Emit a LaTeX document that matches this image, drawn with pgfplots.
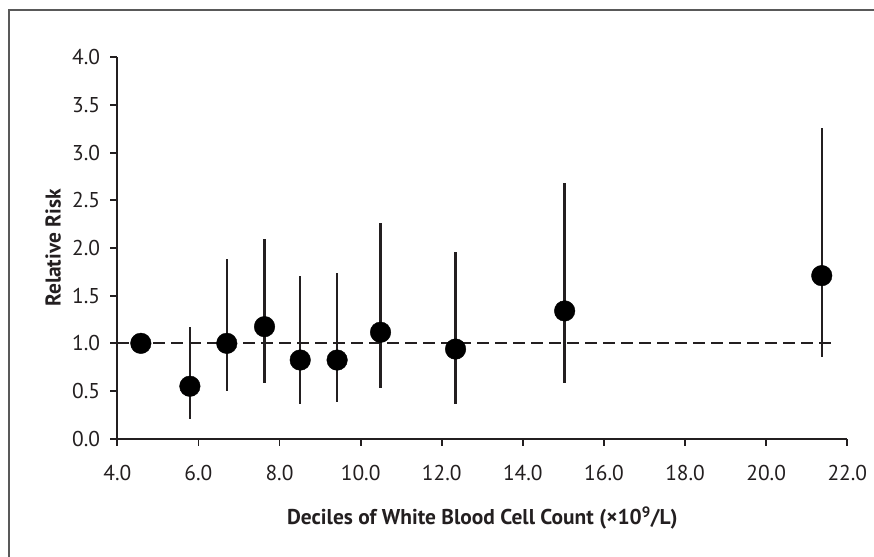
\documentclass[border=0pt]{standalone}
\usepackage{pgfplots}
\pgfplotsset{compat=1.18}
\usepackage{fontspec}
\setmainfont{PT Sans}
\definecolor{ink}{HTML}{231F20}
\pgfplotstableread{
x      y      ep     em
4.58   1.00   0      0
5.79   0.55   0.62   0.34
6.70   1.00   0.88   0.50
7.63   1.175  0.915  0.59
8.51   0.825  0.885  0.458
9.42   0.825  0.915  0.437
10.49  1.116  1.144  0.581
12.34  0.94   1.015  0.576
15.03  1.34   1.34   0.756
21.37  1.71   1.55   0.85
}\rrdata
\begin{document}
\begin{tikzpicture}[x=1bp,y=1bp]
\useasboundingbox (0,0) rectangle (874,557);
\begin{scope}
\clip (0,0) rectangle (874,557);
\draw[line width=1.5bp, color=black!65] (9,-10) -- (9,547) -- (890,547);
\end{scope}
\begin{axis}[
  at={(117.3bp,118.3bp)}, anchor=south west,
  scale only axis, width=730bp, height=381.4bp,
  xmin=4, xmax=22, ymin=0, ymax=4,
  axis lines=left,
  axis line style={-, line width=1.8bp, ink},
  xtick={4,6,...,22}, ytick={0,0.5,...,4},
  tick align=outside, major tick length=7bp,
  tick style={line width=1.8bp, ink},
  /pgf/number format/.cd, fixed, fixed zerofill, precision=1, assume math mode=true,
  /pgfplots/.cd,
  tick label style={font=\fontsize{21.5}{25}\selectfont, text=ink},
  xticklabel style={inner sep=0pt, yshift=-19bp},
  yticklabel style={inner sep=0pt, xshift=-10bp},
  xlabel={\textbf{Deciles of White Blood Cell Count (\texttimes10\textsuperscript{9}/L)}},
  ylabel={\textbf{Relative Risk}},
  every axis x label/.style={at={(axis description cs:0.5,-0.208)}, anchor=center, font=\fontsize{21.5}{25}\selectfont, text=ink},
  every axis y label/.style={at={(axis description cs:-0.088,0.5)}, anchor=center, rotate=90, font=\fontsize{21.5}{25}\selectfont, text=ink},
  clip=false,
]
\addplot[ink, line width=2bp, dash pattern=on 12bp off 6bp] coordinates {(4,1) (21.7,1)};
\addplot[only marks, mark=*, mark size=10.3bp, mark options={fill=black, draw=black},
  error bars/.cd, y dir=both, y explicit, error mark=none,
  error bar style={line width=2.3bp, ink}]
  table[x=x, y=y, y error plus=ep, y error minus=em] {\rrdata};
\end{axis}
\end{tikzpicture}
\end{document}
